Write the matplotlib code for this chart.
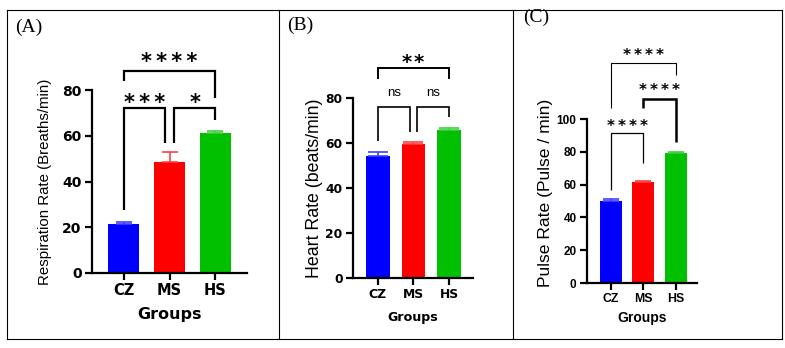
import matplotlib.pyplot as plt
from matplotlib.lines import Line2D

W, H = 785, 348

groups = ["CZ", "MS", "HS"]
colors = ["#0000FF", "#FF0000", "#00C000"]
cap_colors = ["#4040FF", "#FF4040", "#40D040"]

resp_mean = [21.5, 48.5, 61.2]
resp_err = [1.0, 4.5, 0.8]
heart_mean = [54.2, 59.6, 65.8]
heart_err = [2.0, 0.7, 1.0]
pulse_mean = [50.0, 61.8, 79.0]
pulse_err = [1.0, 0.7, 0.9]

# brackets: (x1, x2, y, leg1_bottom, leg2_bottom, label, label gap px)
resp_brackets = [
    (0, 0.9, 72, 27.5, 57, "*\u2009*\u2009*", 11),
    (1.1, 2, 72, 57, 67, "*", 11),
    (0, 2, 88.3, 84, 76.5, "*\u2009*\u2009*\u2009*", 14),
]
heart_brackets = [
    (0, 0.9, 76, 61, 65, "ns", 14),
    (1.1, 2, 76, 65, 71.6, "ns", 14),
    (0, 2, 93.3, 88.4, 88.4, "*\u200a*", 11),
]
pulse_brackets = [
    (0, 1, 91.5, 57, 73, "*\u2009*\u2009*\u2009*", 10),
    (1, 2, 112, 107, 86, "*\u2009*\u2009*\u2009*", 13),
    (0, 2, 134, 107, 127, "*\u2009*\u2009*\u2009*", 11),
]

panels = [
    dict(means=resp_mean, errs=resp_err, brackets=resp_brackets, ymax=80,
         ylabel="Respiration Rate (Breaths/min)", box=(92, 247, 90, 273),
         xlim=(-0.685, 2.685), width=0.67, cap=6, bracket_lw=[1.6, 1.6, 1.6],
         star_fs=15, ns_fs=9.5, tick_font="DejaVu Sans", ytick_fs=10, xtick_fs=10.5,
         label_font="Liberation Sans", ylabel_fs=10.8, ylabel_x=-0.258, ylabel_y=0.5,
         xlabel_font="DejaVu Sans", xlabel_fs=11.5, xlabel_y=-0.185),
    dict(means=heart_mean, errs=heart_err, brackets=heart_brackets, ymax=80,
         ylabel="Heart Rate (beats/min)", box=(353, 473, 98, 278),
         xlim=(-0.694, 2.667), width=0.67, cap=7, bracket_lw=[1.2, 1.2, 1.4],
         star_fs=14, ns_fs=9.5, tick_font="DejaVu Sans", ytick_fs=8.8, xtick_fs=8.9,
         label_font="Liberation Sans", ylabel_fs=12.8, ylabel_x=-0.25, ylabel_y=0.5,
         xlabel_font="DejaVu Sans", xlabel_fs=9.1, xlabel_y=-0.185),
    dict(means=pulse_mean, errs=pulse_err, brackets=pulse_brackets, ymax=100,
         ylabel="Pulse Rate (Pulse / min)", box=(587, 697, 119, 283),
         xlim=(-0.74, 2.65), width=0.68, cap=5.5, bracket_lw=[0.9, 1.8, 0.8],
         star_fs=11, ns_fs=9, tick_font="Liberation Sans", ytick_fs=8.5, xtick_fs=8.8,
         label_font="Liberation Sans", ylabel_fs=12.6, ylabel_x=-0.31, ylabel_y=0.552,
         xlabel_font="Liberation Sans", xlabel_fs=10, xlabel_y=-0.17),
]


def px_axes(fig, x0, x1, y_top, y_bottom):
    return fig.add_axes([x0 / W, (H - y_bottom) / H, (x1 - x0) / W, (y_bottom - y_top) / H])


def draw_panel(fig, p):
    ax = px_axes(fig, *p["box"])
    means, errs = p["means"], p["errs"]
    x = list(range(len(groups)))
    ax.bar(x, means, width=p["width"], color=colors, zorder=2)
    for i in x:
        ax.errorbar(i, means[i], yerr=[[0], [errs[i]]], color=cap_colors[i],
                    capsize=p["cap"], elinewidth=1.2, capthick=1.2, zorder=3)
    ax.set_xlim(*p["xlim"])
    ax.set_ylim(0, p["ymax"])
    ax.set_yticks(range(0, p["ymax"] + 1, 20))
    ax.set_xticks(x)
    ax.set_xticklabels(groups, family=p["tick_font"], fontweight="bold", fontsize=p["xtick_fs"])
    for lab in ax.get_yticklabels():
        lab.set_family(p["tick_font"])
        lab.set_fontweight("bold")
        lab.set_fontsize(p["ytick_fs"])
    for s in ["top", "right"]:
        ax.spines[s].set_visible(False)
    for s in ["left", "bottom"]:
        ax.spines[s].set_linewidth(1.6)
    ax.tick_params(width=1.6, length=5, pad=2.5)

    ax.set_ylabel(p["ylabel"], family=p["label_font"], fontsize=p["ylabel_fs"])
    ax.yaxis.set_label_coords(p["ylabel_x"], p["ylabel_y"])
    ax.set_xlabel("Groups", family=p["xlabel_font"], fontweight="bold", fontsize=p["xlabel_fs"])
    ax.xaxis.set_label_coords(0.5, p["xlabel_y"])
    ax.xaxis.label.set_va("top")

    for (x1, x2, y, b1, b2, label, gap), lw in zip(p["brackets"], p["bracket_lw"]):
        ax.plot([x1, x1, x2, x2], [b1, y, y, b2], color="black", lw=lw,
                clip_on=False, solid_joinstyle="miter", solid_capstyle="butt")
        if label == "ns":
            fs, fam, wt, centre = p["ns_fs"], "Liberation Sans", "normal", 0.26
        else:
            fs, fam, wt, centre = p["star_fs"], "DejaVu Sans", "bold", 0.54
        offset_pt = gap * 0.72 - centre * fs
        ax.annotate(label, xy=((x1 + x2) / 2, y), xytext=(0, offset_pt),
                    textcoords="offset points", ha="center", va="baseline",
                    family=fam, fontsize=fs, fontweight=wt, annotation_clip=False)
    return ax


fig = plt.figure(figsize=(W / 100, H / 100), dpi=100)

# outer table frame
for xs, ys in [([7, 782], [10, 10]), ([7, 782], [339, 339]), ([7, 7], [10, 339]),
               ([279, 279], [10, 339]), ([513, 513], [10, 339]), ([782, 782], [10, 339])]:
    fig.add_artist(Line2D([v / W for v in xs], [1 - v / H for v in ys], color="black", lw=0.8))

for p in panels:
    draw_panel(fig, p)

for label, x, y in [("(A)", 15, 27), ("(B)", 287, 25), ("(C)", 523, 17)]:
    fig.text(x / W, 1 - y / H, label, family="Liberation Serif", fontsize=14,
             ha="left", va="center")

fig.savefig("out.png", dpi=100)
